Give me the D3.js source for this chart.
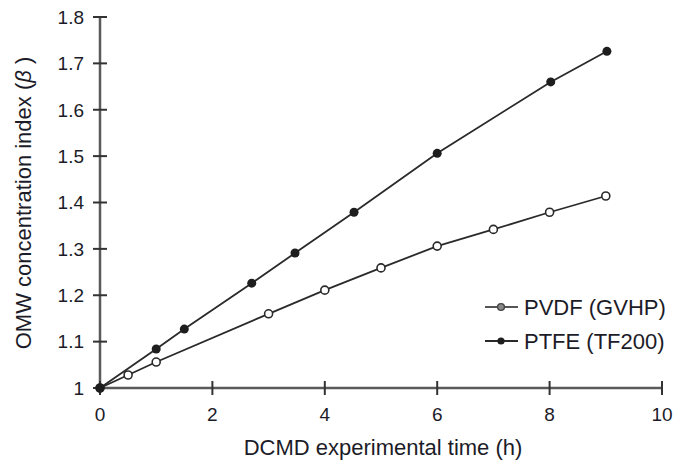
<!DOCTYPE html>
<html>
<head>
<meta charset="utf-8">
<script src="https://cdn.jsdelivr.net/npm/d3@7"></script>
<style>
  body { margin: 0; background: #fff; }
  text { font-family: "Liberation Sans", Arial, sans-serif; fill: #1c1c28; }
</style>
</head>
<body>
<script>
(function(){
    // data
    var pvdfTime = [0, 0.5, 1, 3, 4, 5, 6, 7, 8, 9];
    var pvdfBeta = [1.0, 1.028, 1.056, 1.16, 1.211, 1.259, 1.306, 1.342, 1.379, 1.414];
    var ptfeTime = [0, 1, 1.5, 2.7, 3.47, 4.52, 6, 8.02, 9.02];
    var ptfeBeta = [1.0, 1.084, 1.127, 1.226, 1.291, 1.379, 1.506, 1.66, 1.726];
    var xTicks = [0, 2, 4, 6, 8, 10];
    var yTicks = [1, 1.1, 1.2, 1.3, 1.4, 1.5, 1.6, 1.7, 1.8];
    var seriesNames = ["PVDF (GVHP)", "PTFE (TF200)"];

    var width = 679, height = 466;

    var svg = d3.select("body").append("svg")
        .attr("width", width)
        .attr("height", height);

    var x = d3.scaleLinear().domain([0, 10]).range([100, 662]);
    var y = d3.scaleLinear().domain([1, 1.8]).range([388, 17]);

    var axisColor = "#5a5a5a";

    // y axis
    var yAxis = svg.append("g").attr("transform", "translate(" + x(0) + ",0)");
    yAxis.append("line")
        .attr("y1", y(1.8)).attr("y2", y(1))
        .attr("stroke", axisColor).attr("stroke-width", 2.5);
    yAxis.selectAll(".ytick").data(yTicks).enter().append("line")
        .attr("x1", -7).attr("x2", 7)
        .attr("y1", function(d){ return y(d); })
        .attr("y2", function(d){ return y(d); })
        .attr("stroke", "#333").attr("stroke-width", 2);
    yAxis.selectAll(".ylab").data(yTicks).enter().append("text")
        .attr("x", -16)
        .attr("y", function(d){ return y(d); })
        .attr("dy", "0.36em")
        .attr("text-anchor", "end")
        .style("font-size", "19px")
        .text(function(d){ return d === 1 ? "1" : d3.format(".1f")(d); });

    // x axis
    var xAxis = svg.append("g").attr("transform", "translate(0," + y(1) + ")");
    xAxis.append("line")
        .attr("x1", x(0)).attr("x2", x(10))
        .attr("stroke", axisColor).attr("stroke-width", 2.5);
    xAxis.selectAll(".xtick").data(xTicks).enter().append("line")
        .attr("x1", function(d){ return x(d); })
        .attr("x2", function(d){ return x(d); })
        .attr("y1", -7).attr("y2", 7)
        .attr("stroke", "#333").attr("stroke-width", 2);
    xAxis.selectAll(".xlab").data(xTicks).enter().append("text")
        .attr("x", function(d){ return x(d); })
        .attr("y", 33)
        .attr("text-anchor", "middle")
        .style("font-size", "19px")
        .text(function(d){ return d; });

    // axis titles
    svg.append("text")
        .attr("x", 383).attr("y", 455)
        .attr("text-anchor", "middle")
        .style("font-size", "22px")
        .text("DCMD experimental time (h)");
    var yTitle = svg.append("text")
        .attr("transform", "translate(31,203) rotate(-90)")
        .attr("text-anchor", "middle")
        .style("font-size", "22px");
    yTitle.append("tspan").text("OMW concentration index (");
    yTitle.append("tspan").style("font-style", "italic").text("\u03B2");
    yTitle.append("tspan").text(" )");

    var line = d3.line()
        .x(function(d){ return x(d[0]); })
        .y(function(d){ return y(d[1]); });

    var pvdf = d3.zip(pvdfTime, pvdfBeta);
    var ptfe = d3.zip(ptfeTime, ptfeBeta);

    [pvdf, ptfe].forEach(function(s){
        svg.append("path")
            .datum(s)
            .attr("d", line)
            .attr("fill", "none")
            .attr("stroke", "#2a2a2a")
            .attr("stroke-width", 1.8);
    });

    svg.selectAll(".pvdf").data(pvdf).enter().append("circle")
        .attr("cx", function(d){ return x(d[0]); })
        .attr("cy", function(d){ return y(d[1]); })
        .attr("r", 4)
        .attr("fill", "#fff")
        .attr("stroke", "#2a2a2a")
        .attr("stroke-width", 1.6);

    svg.selectAll(".ptfe").data(ptfe).enter().append("circle")
        .attr("cx", function(d){ return x(d[0]); })
        .attr("cy", function(d){ return y(d[1]); })
        .attr("r", 4.5)
        .attr("fill", "#1e1e1e");

    // legend
    var legend = svg.append("g");
    var legY = [307, 341];
    seriesNames.forEach(function(name, i){
        var g = legend.append("g").attr("transform", "translate(0," + legY[i] + ")");
        g.append("line")
            .attr("x1", 485).attr("x2", 518)
            .attr("stroke", i === 0 ? "#555" : "#2a2a2a")
            .attr("stroke-width", 1.8);
        if (i === 0) {
            g.append("circle").attr("cx", 501).attr("cy", 0).attr("r", 3.4)
                .attr("fill", "#888").attr("stroke", "#444").attr("stroke-width", 1.4);
        } else {
            g.append("circle").attr("cx", 501).attr("cy", 0).attr("r", 3.6)
                .attr("fill", "#1e1e1e");
        }
        g.append("text")
            .attr("x", 524).attr("y", 0).attr("dy", "0.36em")
            .style("font-size", "22px")
            .text(name);
    });
})();
</script>
</body>
</html>
